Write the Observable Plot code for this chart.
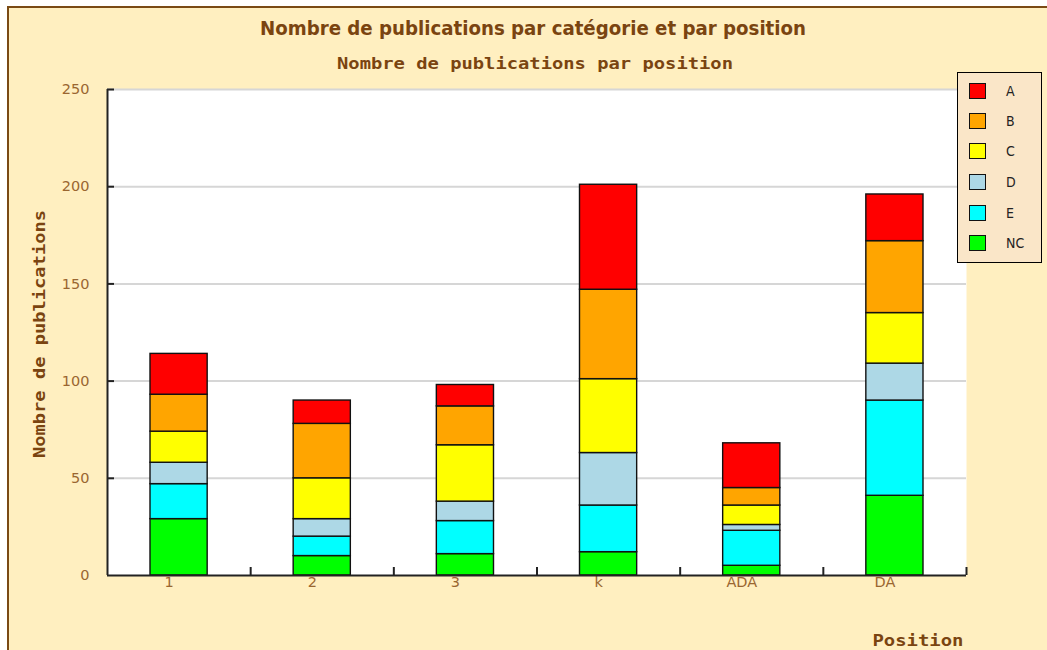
<!DOCTYPE html>
<html><head><meta charset="utf-8">
<script src="https://cdn.jsdelivr.net/npm/d3@7"></script>
<script src="https://cdn.jsdelivr.net/npm/@observablehq/plot@0.6"></script>
<style>
html,body{margin:0;padding:0;background:#fff;}
#wrap{position:relative;width:1047px;height:650px;overflow:hidden;background:#fff;}
#bg{position:absolute;left:7px;top:6px;width:1040px;height:644px;background:#ffefc0;border-left:2px solid #7a4a14;border-top:2px solid #7a4a14;box-sizing:border-box;}
#chart{position:absolute;left:0;top:0;}
#overlay{position:absolute;left:0;top:0;}
#legend{position:absolute;left:957px;top:72px;width:85px;height:191px;box-sizing:border-box;border:1px solid #000;background:#fae6c8;font-family:"DejaVu Sans Condensed","DejaVu Sans",sans-serif;font-size:14px;color:#222;}
.sw{position:absolute;left:11px;width:17px;height:16px;box-sizing:border-box;border:1.5px solid #111;}
.lb{position:absolute;left:48px;height:16px;line-height:16px;}
</style></head>
<body><div id="wrap"><div id="bg"></div><div id="chart"></div><svg id="overlay" width="1047" height="650"></svg><div id="legend"></div></div>
<script>
const positions = ["1", "2", "3", "k", "ADA", "DA"];
const categories = ["NC", "E", "D", "C", "B", "A"];
const colors = ["#00ff00", "#00ffff", "#add8e6", "#ffff00", "#ffa500", "#ff0000"];
const NC = [29, 10, 11, 12, 5, 41];
const E  = [18, 10, 17, 24, 18, 49];
const D  = [11, 9, 10, 27, 3, 19];
const C  = [16, 21, 29, 38, 10, 26];
const B  = [19, 28, 20, 46, 9, 37];
const A  = [21, 12, 11, 54, 23, 24];
const yTicks = [0, 50, 100, 150, 200, 250];
const title = "Nombre de publications par catégorie et par position";
const subtitle = "Nombre de publications par position";
const yLabel = "Nombre de publications";
const xLabel = "Position";

const series = {NC, E, D, C, B, A};
const data = [];
positions.forEach((p, i) => {
  categories.forEach(c => data.push({pos: p, idx: i, cat: c, value: series[c][i]}));
});

const plot = Plot.plot({
  width: 1047, height: 650,
  marginLeft: 107, marginRight: 81, marginTop: 89, marginBottom: 75,
  style: {background: "transparent", fontFamily: "DejaVu Sans", fontSize: "14.5px", color: "#9a6630"},
  x: {domain: [0, positions.length], label: null},
  y: {domain: [0, 250], label: null},
  color: {domain: categories, range: colors},
  marks: [
    Plot.frame({fill: "white", stroke: null}),
    Plot.ruleY(yTicks.slice(1), {stroke: "#d6d6d6", strokeWidth: 2}),
    Plot.rectY(data, Plot.stackY({x1: "idx", x2: d => d.idx + 1, y: "value", fill: "cat", stroke: "#111", strokeWidth: 1.4, insetLeft: 43, insetRight: 43})),
    Plot.axisY({ticks: yTicks, tickSize: 0, tickPadding: 18, label: null, fill: "#9a6630"}),
    Plot.axisY({ticks: yTicks.slice(1), tickSize: -7, text: null, stroke: "#222", strokeWidth: 2}),
    Plot.axisX({ticks: positions.map((d, i) => i + 0.5), tickFormat: v => positions[Math.floor(v)], tickSize: 0, tickPadding: 1, dx: -10, label: null, fill: "#9a6630"}),
    Plot.axisX({ticks: positions.map((d, i) => i + 1), tickSize: -8, text: null, stroke: "#222", strokeWidth: 2}),
    Plot.ruleX([0], {stroke: "#222", strokeWidth: 2}),
    Plot.ruleY([0], {stroke: "#222", strokeWidth: 2})
  ]
});
document.getElementById("chart").appendChild(plot);

const ov = d3.select("#overlay");
const brown = "#7a4410";
ov.append("text").attr("x", 533).attr("y", 28).attr("text-anchor", "middle").attr("dominant-baseline", "central")
  .attr("font-family", "'Liberation Sans Narrow','DejaVu Sans Condensed',sans-serif").attr("font-weight", "bold").attr("font-size", 20)
  .attr("textLength", 546).attr("lengthAdjust", "spacingAndGlyphs").attr("fill", brown).text(title);
const mono = {"font-family": "'DejaVu Sans Mono',monospace", "font-weight": "bold", "font-size": 15, fill: brown};
function monoText(t, x, y, len, rot) {
  const el = ov.append("text").attr("text-anchor", "middle").attr("dominant-baseline", "central")
    .attr("textLength", len).attr("lengthAdjust", "spacingAndGlyphs").text(t);
  Object.entries(mono).forEach(([k, v]) => el.attr(k, v));
  if (rot) el.attr("transform", `translate(${x},${y}) rotate(-90)`);
  else el.attr("x", x).attr("y", y);
}
monoText(subtitle, 535, 64, 396, false);
monoText(yLabel, 40, 334, 248, true);
monoText(xLabel, 918, 641, 91, false);

const leg = document.getElementById("legend");
const rowsY = [10, 40, 70, 101, 132, 162];
categories.slice().reverse().forEach((c, i) => {
  const col = colors[categories.indexOf(c)];
  const sw = document.createElement("div");
  sw.className = "sw"; sw.style.top = rowsY[i] + "px"; sw.style.background = col;
  const lb = document.createElement("div");
  lb.className = "lb"; lb.style.top = rowsY[i] + "px"; lb.textContent = c;
  leg.appendChild(sw); leg.appendChild(lb);
});
</script>
</body></html>
